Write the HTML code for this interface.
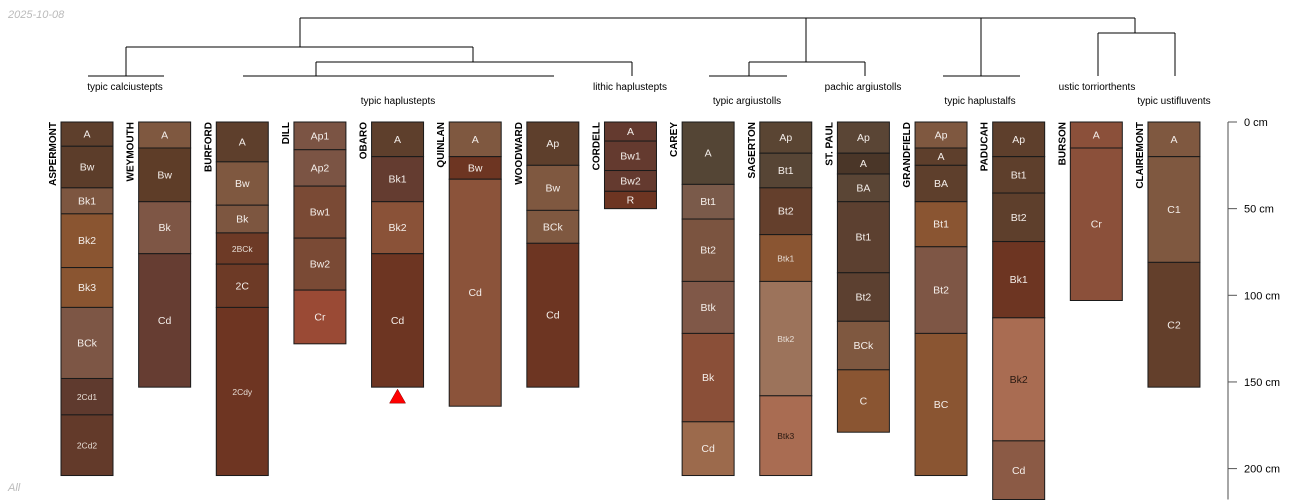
<!DOCTYPE html>
<html><head><meta charset="utf-8"><style>
html,body{margin:0;padding:0;background:#fff;overflow:hidden;width:1300px;height:500px;}
svg{display:block;font-family:"Liberation Sans",sans-serif;overflow:hidden;}
</style></head><body>
<svg id="chart" width="1300" height="500" viewBox="0 0 1300 500">
<text x="8" y="18" font-size="11" font-style="italic" fill="#bbb">2025-10-08</text>
<text x="8" y="491" font-size="11" font-style="italic" fill="#bbb">All</text>
<g id="dendro" stroke="#000" stroke-width="1" fill="none">
<path d="M300 18H1135M300 18V47M806 18V62M981 18V76M1135 18V33"/>
<path d="M126 47H473M126 47V76M88 76H164M473 47V62M316 62H632M316 62V76M632 62V76M243 76H554"/>
<path d="M749 62H865M749 62V76M865 62V76M709 76H787M943 76H1020M1098 33H1175M1098 33V76M1175 33V76"/>
</g>
<g font-size="10" fill="#000" text-anchor="middle">
<text x="125" y="90">typic calciustepts</text>
<text x="398" y="104">typic haplustepts</text>
<text x="630" y="90">lithic haplustepts</text>
<text x="747" y="104">typic argiustolls</text>
<text x="863" y="90">pachic argiustolls</text>
<text x="980" y="104">typic haplustalfs</text>
<text x="1097" y="90">ustic torriorthents</text>
<text x="1174" y="104">typic ustifluvents</text>
</g>
<g id="profiles"></g>
<g id="axis"></g>
</svg>
<script>
const profileNames = ["ASPERMONT","WEYMOUTH","BURFORD","DILL","OBARO","QUINLAN","WOODWARD","CORDELL","CAREY","SAGERTON","ST. PAUL","GRANDFIELD","PADUCAH","BURSON","CLAIREMONT"];
const horizonNames = [
 ["A","Bw","Bk1","Bk2","Bk3","BCk","2Cd1","2Cd2"],
 ["A","Bw","Bk","Cd"],
 ["A","Bw","Bk","2BCk","2C","2Cdy"],
 ["Ap1","Ap2","Bw1","Bw2","Cr"],
 ["A","Bk1","Bk2","Cd"],
 ["A","Bw","Cd"],
 ["Ap","Bw","BCk","Cd"],
 ["A","Bw1","Bw2","R"],
 ["A","Bt1","Bt2","Btk","Bk","Cd"],
 ["Ap","Bt1","Bt2","Btk1","Btk2","Btk3"],
 ["Ap","A","BA","Bt1","Bt2","BCk","C"],
 ["Ap","A","BA","Bt1","Bt2","BC"],
 ["Ap","Bt1","Bt2","Bk1","Bk2","Cd"],
 ["A","Cr"],
 ["A","C1","C2"]
];
const horizonDepths = [
 [0,14,38,53,84,107,148,169,204],
 [0,15,46,76,153],
 [0,23,48,64,82,107,204],
 [0,16,37,67,97,128],
 [0,20,46,76,153],
 [0,20,33,164],
 [0,25,51,70,153],
 [0,11,28,40,50],
 [0,36,56,92,122,173,204],
 [0,18,38,65,92,158,204],
 [0,18,30,46,87,115,143,179],
 [0,15,25,46,72,122,204],
 [0,20,41,69,113,184,218],
 [0,15,103],
 [0,20,81,153]
];
const horizonColors = [
 ["#5e3f2c","#5c3d2a","#7d5640","#8a5531","#8a5531","#7d5645","#5f3a2e","#633a2a"],
 ["#7f5840","#5e3d28","#7e5645","#663d32"],
 ["#5e3f2c","#7f5840","#7d5640","#6d3a26","#6d3a26","#6e3522"],
 ["#7b5444","#7b5444","#7a4a35","#7a4a35","#9a4a35"],
 ["#5e3f2c","#643c30","#8a5238","#6d3522"],
 ["#7f5840","#6d3522","#8b533a"],
 ["#5e3f2c","#7f5840","#7f5840","#6d3522"],
 ["#643a2f","#643a2f","#643a2f","#6d3522"],
 ["#544535","#7a5a4a","#7b5440","#805848","#8a4f38","#9c6a4c"],
 ["#5a4533","#574535","#643f2c","#8a5532","#9c735b","#a96c52"],
 ["#5a4535","#4a3628","#5a4535","#5c4030","#5c4030","#7f5840","#8a5532"],
 ["#7f5840","#5e3f2c","#5e3f2c","#8a5532","#7e5645","#8a5532"],
 ["#5e3f2c","#5e3f2c","#5e3f2c","#6d3522","#a96c52","#8b5a45"],
 ["#8b503a","#8b503a"],
 ["#7f5840","#7f5840","#633f2b"]
];
const depthTicks = [0,50,100,150,200];
const truncatedProfiles = ["OBARO"];
const smallLabels = ["2Cd1","2Cd2","2BCk","2Cdy","Btk1","Btk2","Btk3"];
const darkLabels = ["Btk3","Bk2|PADUCAH"];

const NS = "http://www.w3.org/2000/svg";
const y = d => 122 + d * 1.733;
const xLeft = i => 61 + i * 77.64;
const W = 52;
function mk(tag, attrs, parent){ const e=document.createElementNS(NS,tag); for(const k in attrs) e.setAttribute(k,attrs[k]); parent.appendChild(e); return e; }
const gP = document.getElementById("profiles");
profileNames.forEach((name,i)=>{
  const g = mk("g",{},gP);
  
  
  const x0 = xLeft(i);
  const t = mk("text",{x:0,y:0,"font-size":"10","font-weight":"bold","text-anchor":"end",transform:`translate(${x0-5},122) rotate(-90)`},g);
  t.textContent = name;
  
  
  const dep = horizonDepths[i];
  horizonNames[i].forEach((h,j)=>{
    const y1=y(dep[j]), y2=Math.min(y(dep[j+1]), 499.5);
    const r = mk("rect",{x:x0,y:y1,width:W,height:y2-y1,fill:horizonColors[i][j],stroke:"#1a1a1a","stroke-width":"1"},g);
    
    
    const small = smallLabels.includes(h);
    const dark = darkLabels.includes(h) || darkLabels.includes(h+"|"+name);
    const lt = mk("text",{x:x0+W/2,y:(y(dep[j])+y(dep[j+1]))/2+3.5,"font-size":small?"8.5":"10.5","text-anchor":"middle",fill:dark?"#2a1a12":(small?"#e6dcd4":"#f4eeea")},g);
    lt.textContent = h;
    
    
  });
  if (truncatedProfiles.includes(name)) {
    const yb = y(dep[dep.length-1]);
    const cx = x0+W/2;
    const tr = mk("polygon",{points:`${cx},${yb+2} ${cx-8},${yb+16} ${cx+8},${yb+16}`,fill:"#ff0000",stroke:"#800",'stroke-width':"0.5"},g);
    
    
  }
});
const gA = document.getElementById("axis");


mk("line",{x1:1228,y1:y(0),x2:1228,y2:499.5,stroke:"#777","stroke-width":"1.3"},gA);
depthTicks.forEach(d=>{
  const tk = mk("line",{x1:1228,y1:y(d),x2:1237,y2:y(d),stroke:"#555","stroke-width":"1"},gA);
  
  
  const tl = mk("text",{x:1244,y:y(d)+4,"font-size":"11",fill:"#000"},gA);
  tl.textContent = d + " cm";
  
  
});
</script>
</body></html>
